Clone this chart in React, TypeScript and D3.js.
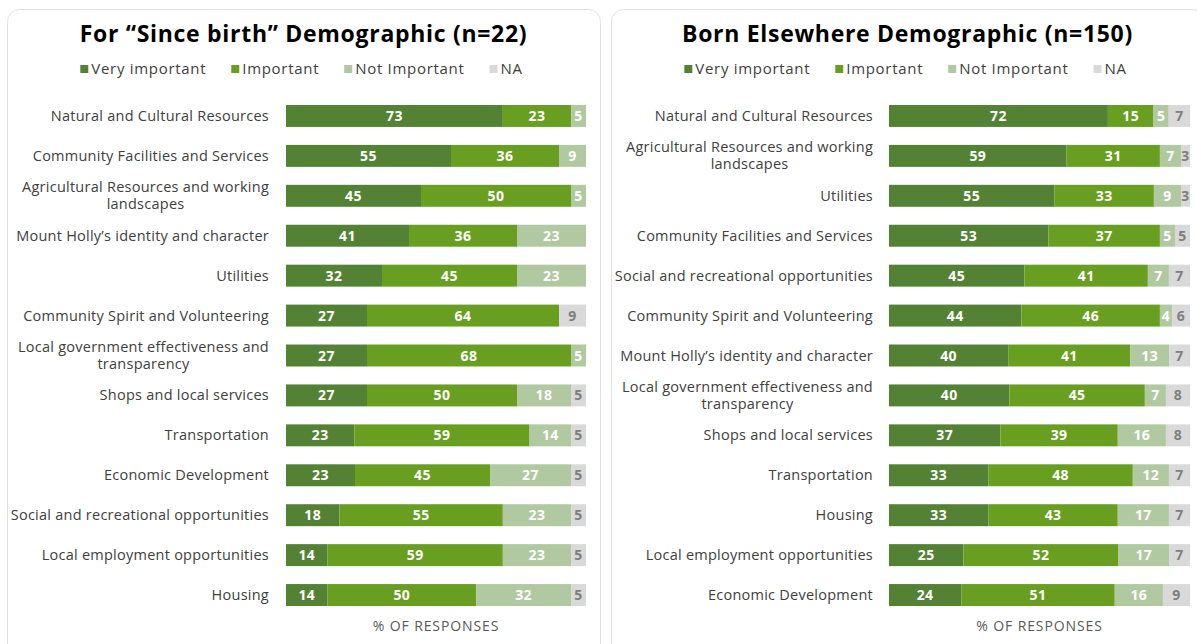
import React, { useRef, useEffect } from "react";
import * as d3 from "d3";

// legend / series
const seriesNames = ["Very important", "Important", "Not Important", "NA"];
const seriesColors = ["#548235", "#699f21", "#b1c9a1", "#d9d9d9"];
const valueColors = ["#ffffff", "#ffffff", "#ffffff", "#7f7f7f"];

// "Since birth" demographic (n=22)
const birthTitle = "For “Since birth” Demographic (n=22)";
const birthCategories = [
  "Natural and Cultural Resources",
  "Community Facilities and Services",
  "Agricultural Resources and working landscapes",
  "Mount Holly’s identity and character",
  "Utilities",
  "Community Spirit and Volunteering",
  "Local government effectiveness and transparency",
  "Shops and local services",
  "Transportation",
  "Economic Development",
  "Social and recreational opportunities",
  "Local employment opportunities",
  "Housing",
];
const birthVeryImportant = [73, 55, 45, 41, 32, 27, 27, 27, 23, 23, 18, 14, 14];
const birthImportant = [23, 36, 50, 36, 45, 64, 68, 50, 59, 45, 55, 59, 50];
const birthNotImportant = [5, 9, 5, 23, 23, 0, 5, 18, 14, 27, 23, 23, 32];
const birthNA = [0, 0, 0, 0, 0, 9, 0, 5, 5, 5, 5, 5, 5];

// Born elsewhere demographic (n=150)
const elsewhereTitle = "Born Elsewhere Demographic (n=150)";
const elsewhereCategories = [
  "Natural and Cultural Resources",
  "Agricultural Resources and working landscapes",
  "Utilities",
  "Community Facilities and Services",
  "Social and recreational opportunities",
  "Community Spirit and Volunteering",
  "Mount Holly’s identity and character",
  "Local government effectiveness and transparency",
  "Shops and local services",
  "Transportation",
  "Housing",
  "Local employment opportunities",
  "Economic Development",
];
const elsewhereVeryImportant = [72, 59, 55, 53, 45, 44, 40, 40, 37, 33, 33, 25, 24];
const elsewhereImportant = [15, 31, 33, 37, 41, 46, 41, 45, 39, 48, 43, 52, 51];
const elsewhereNotImportant = [5, 7, 9, 5, 7, 4, 13, 7, 16, 12, 17, 17, 16];
const elsewhereNA = [7, 3, 3, 5, 7, 6, 7, 8, 8, 7, 7, 7, 9];

const axisTitle = "% OF RESPONSES";

const W = 1197;
const H = 644;
const FONT = "'Open Sans', sans-serif";

function drawPanel(svg, p) {
  const g = svg.append("g");

  g.append("rect")
    .attr("x", p.left + 0.5)
    .attr("y", 9.5)
    .attr("width", p.right - p.left)
    .attr("height", 700)
    .attr("rx", 12)
    .attr("fill", "#fff")
    .attr("stroke", "#e2e2e2");

  const cx = (p.left + p.right) / 2;

  g.append("text")
    .attr("x", cx)
    .attr("y", 42)
    .attr("text-anchor", "middle")
    .attr("font-family", FONT)
    .attr("font-weight", 700)
    .attr("font-size", 23)
    .attr("letter-spacing", 0.7)
    .attr("fill", "#000")
    .text(p.title);

  // legend, laid out from measured text widths
  const leg = g.append("g")
    .attr("font-family", FONT)
    .attr("font-size", 15)
    .attr("letter-spacing", 0.7);
  const items = seriesNames.map((name, i) => {
    const it = leg.append("g");
    it.append("rect").attr("width", 8).attr("height", 8).attr("y", -4).attr("fill", seriesColors[i]);
    const t = it.append("text")
      .attr("x", 11)
      .attr("dy", "0.35em")
      .attr("fill", "#404040")
      .text(name);
    return { it, w: 11 + t.node().getComputedTextLength() };
  });
  const gap = 25;
  const total = d3.sum(items, (d) => d.w) + gap * (items.length - 1);
  let lx = cx - 2 - total / 2;
  items.forEach((d) => {
    d.it.attr("transform", `translate(${lx},69)`);
    lx += d.w + gap;
  });

  const y = d3.scaleBand()
    .domain(p.categories)
    .range([96, 615])
    .paddingInner(0.45)
    .paddingOuter(0.225);
  const x = d3.scaleLinear().domain([0, 1]).range([p.x0, p.x1]);

  const rows = p.categories.map((c, i) => ({
    cat: c,
    vals: p.values.map((s) => s[i]),
  }));
  const stacked = d3.stack()
    .keys([0, 1, 2, 3])
    .value((d, k) => d.vals[k])
    .offset(d3.stackOffsetExpand)(rows);

  stacked.forEach((layer, k) => {
    const lg = g.append("g");
    lg.selectAll("rect")
      .data(layer)
      .join("rect")
      .attr("x", (d) => x(d[0]))
      .attr("y", (d) => y(d.data.cat))
      .attr("width", (d) => Math.max(0, x(d[1]) - x(d[0])))
      .attr("height", y.bandwidth())
      .attr("fill", seriesColors[k]);
    lg.selectAll("text")
      .data(layer.filter((d) => d.data.vals[k] > 0))
      .join("text")
      .attr("x", (d) => (x(d[0]) + x(d[1])) / 2)
      .attr("y", (d) => y(d.data.cat) + y.bandwidth() / 2)
      .attr("dy", "0.36em")
      .attr("text-anchor", "middle")
      .attr("font-family", FONT)
      .attr("font-weight", 700)
      .attr("font-size", 14)
      .attr("letter-spacing", 0.4)
      .attr("fill", valueColors[k])
      .text((d) => d.data.vals[k]);
  });

  // category labels, long ones wrapped onto two centred lines
  const labels = g.append("g")
    .attr("font-family", FONT)
    .attr("font-size", 14.5)
    .attr("letter-spacing", 0.25)
    .attr("fill", "#404040");
  p.categories.forEach((c) => {
    const cy = y(c) + y.bandwidth() / 2;
    const t = labels.append("text").attr("y", cy).attr("dy", "0.35em");
    t.text(c);
    if (t.node().getComputedTextLength() <= p.wrap) {
      t.attr("x", p.labelRight).attr("text-anchor", "end");
      return;
    }
    const words = c.split(" ");
    const lines = [];
    let line = [];
    words.forEach((w) => {
      line.push(w);
      t.text(line.join(" "));
      if (t.node().getComputedTextLength() > p.wrap && line.length > 1) {
        line.pop();
        lines.push(line.join(" "));
        line = [w];
      }
    });
    lines.push(line.join(" "));
    t.text(lines[0]);
    const maxW = t.node().getComputedTextLength();
    t.remove();
    lines.forEach((ln, i) => {
      labels.append("text")
        .attr("x", p.labelRight - maxW / 2)
        .attr("y", cy + (i - (lines.length - 1) / 2) * 17)
        .attr("dy", "0.35em")
        .attr("text-anchor", "middle")
        .text(ln);
    });
  });

  g.append("text")
    .attr("x", (p.x0 + p.x1) / 2)
    .attr("y", 631)
    .attr("text-anchor", "middle")
    .attr("font-family", FONT)
    .attr("font-size", 14)
    .attr("letter-spacing", 0.9)
    .attr("fill", "#595959")
    .text(axisTitle);
}

export default function App() {
  const svgRef = useRef(null);

  useEffect(() => {
    const svg = d3.select(svgRef.current);
    svg.selectAll("*").remove();

    drawPanel(svg, {
      title: birthTitle,
      categories: birthCategories,
      values: [birthVeryImportant, birthImportant, birthNotImportant, birthNA],
      left: 7,
      right: 600,
      x0: 286,
      x1: 586,
      labelRight: 269,
      wrap: 266,
    });
    drawPanel(svg, {
      title: elsewhereTitle,
      categories: elsewhereCategories,
      values: [elsewhereVeryImportant, elsewhereImportant, elsewhereNotImportant, elsewhereNA],
      left: 611,
      right: 1204,
      x0: 889,
      x1: 1190,
      labelRight: 873,
      wrap: 266,
    });
  }, []);

  return (
    <svg
      ref={svgRef}
      width={W}
      height={H}
      style={{ position: "absolute", left: 0, top: 0, background: "#fff" }}
    />
  );
}
